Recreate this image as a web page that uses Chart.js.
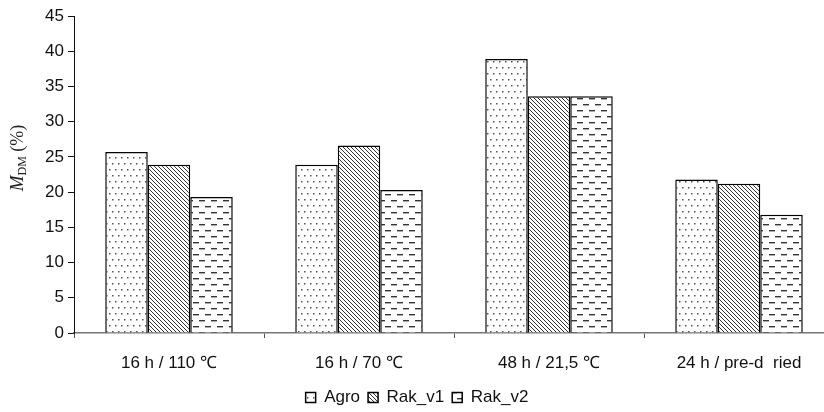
<!DOCTYPE html>
<html>
<head>
<meta charset="utf-8">
<script src="https://cdn.jsdelivr.net/npm/chart.js@4/dist/chart.umd.min.js"></script>
<style>
  html, body { margin: 0; padding: 0; background: #fff; overflow: hidden; }
  #wrap { width: 834px; height: 412px; }
</style>
</head>
<body>
<div id="wrap"><canvas id="mdmChart"></canvas></div>
<script>
const labels = ['16 h / 110 \u2103', '16 h / 70 \u2103', '48 h / 21,5 \u2103', '24 h / pre-d  ried']
const agro = [25.7, 23.9, 38.9, 21.8]
const rakV1 = [23.9, 26.6, 33.6, 21.2]
const rakV2 = [19.3, 20.3, 33.6, 16.8]
const yTicks = [0, 5, 10, 15, 20, 25, 30, 35, 40, 45]

function makePattern(kind) {
  const c = document.createElement('canvas')
  const g = c.getContext('2d')
  if (kind === 'dots') {
    c.width = 6; c.height = 12
    g.fillStyle = '#fff'; g.fillRect(0, 0, 6, 12)
    g.fillStyle = '#555'
    g.fillRect(1, 1, 1.5, 1.5)
    g.fillRect(4, 7, 1.5, 1.5)
  } else if (kind === 'diag') {
    c.width = 4; c.height = 4
    g.fillStyle = '#fff'; g.fillRect(0, 0, 4, 4)
    g.strokeStyle = '#333'; g.lineWidth = 1
    g.beginPath()
    g.moveTo(-1, -1); g.lineTo(5, 5)
    g.moveTo(-1, 3); g.lineTo(1, 5)
    g.moveTo(3, -1); g.lineTo(5, 1)
    g.stroke()
  } else {
    c.width = 12; c.height = 12
    g.fillStyle = '#fff'; g.fillRect(0, 0, 12, 12)
    g.fillStyle = '#333'
    g.fillRect(1, 2, 6, 1.4)
    g.fillRect(7, 8, 6, 1.4)
    g.fillRect(-5, 8, 6, 1.4)
  }
  return g.createPattern(c, 'repeat')
}

// y axis title: italic M with DM subscript, serif
const yTitle = {
  id: 'yTitle',
  afterDraw(chart) {
    const g = chart.ctx
    g.save()
    g.translate(18, 158)
    g.rotate(-Math.PI / 2)
    g.fillStyle = '#222'
    g.textBaseline = 'middle'
    const parts = [
      { t: 'M', f: 'italic 19px "Liberation Serif"', dy: 0 },
      { t: 'DM', f: '12px "Liberation Serif"', dy: 5 },
      { t: ' (%)', f: '18px "Liberation Serif"', dy: 0 }
    ]
    let w = 0
    parts.forEach(p => { g.font = p.f; w += g.measureText(p.t).width })
    let x = -w / 2
    parts.forEach(p => {
      g.font = p.f
      g.fillText(p.t, x, p.dy)
      x += g.measureText(p.t).width
    })
    g.restore()
  }
}

const ctx = document.getElementById('mdmChart')
const bar = { borderColor: '#000', borderWidth: 1.5, borderSkipped: 'bottom' }

new Chart(ctx, {
  type: 'bar',
  data: {
    labels: labels,
    datasets: [
      { label: 'Agro', data: agro, backgroundColor: makePattern('dots'), ...bar },
      { label: 'Rak_v1', data: rakV1, backgroundColor: makePattern('diag'), ...bar },
      { label: 'Rak_v2', data: rakV2, backgroundColor: makePattern('dash'), ...bar }
    ]
  },
  options: {
    responsive: true,
    maintainAspectRatio: false,
    animation: false,
    categoryPercentage: 0.671,
    barPercentage: 1,
    layout: { padding: { top: 16, left: 0, right: 0, bottom: -4 } },
    scales: {
      x: {
        offset: true,
        border: { color: '#777', width: 1.5 },
        grid: { offset: true, drawOnChartArea: false, tickLength: 5, color: '#555' },
        ticks: { color: '#111', font: { family: 'Liberation Sans', size: 17 }, padding: 15 },
        afterFit: s => { s.height = 48 }
      },
      y: {
        min: 0,
        max: 45,
        afterBuildTicks: s => { s.ticks = yTicks.map(v => ({ value: v })) },
        border: { color: '#111', width: 1 },
        grid: { drawOnChartArea: false, tickLength: 6, color: '#111' },
        ticks: { color: '#111', font: { family: 'Liberation Sans', size: 17 }, padding: 4 },
        afterFit: s => { s.width = 74 }
      }
    },
    plugins: {
      legend: {
        position: 'bottom',
        labels: {
          boxWidth: 10,
          boxHeight: 10,
          padding: 8,
          color: '#111',
          font: { family: 'Liberation Sans', size: 17 }
        }
      },
      tooltip: { enabled: false }
    }
  },
  plugins: [yTitle]
})
</script>
</body>
</html>
